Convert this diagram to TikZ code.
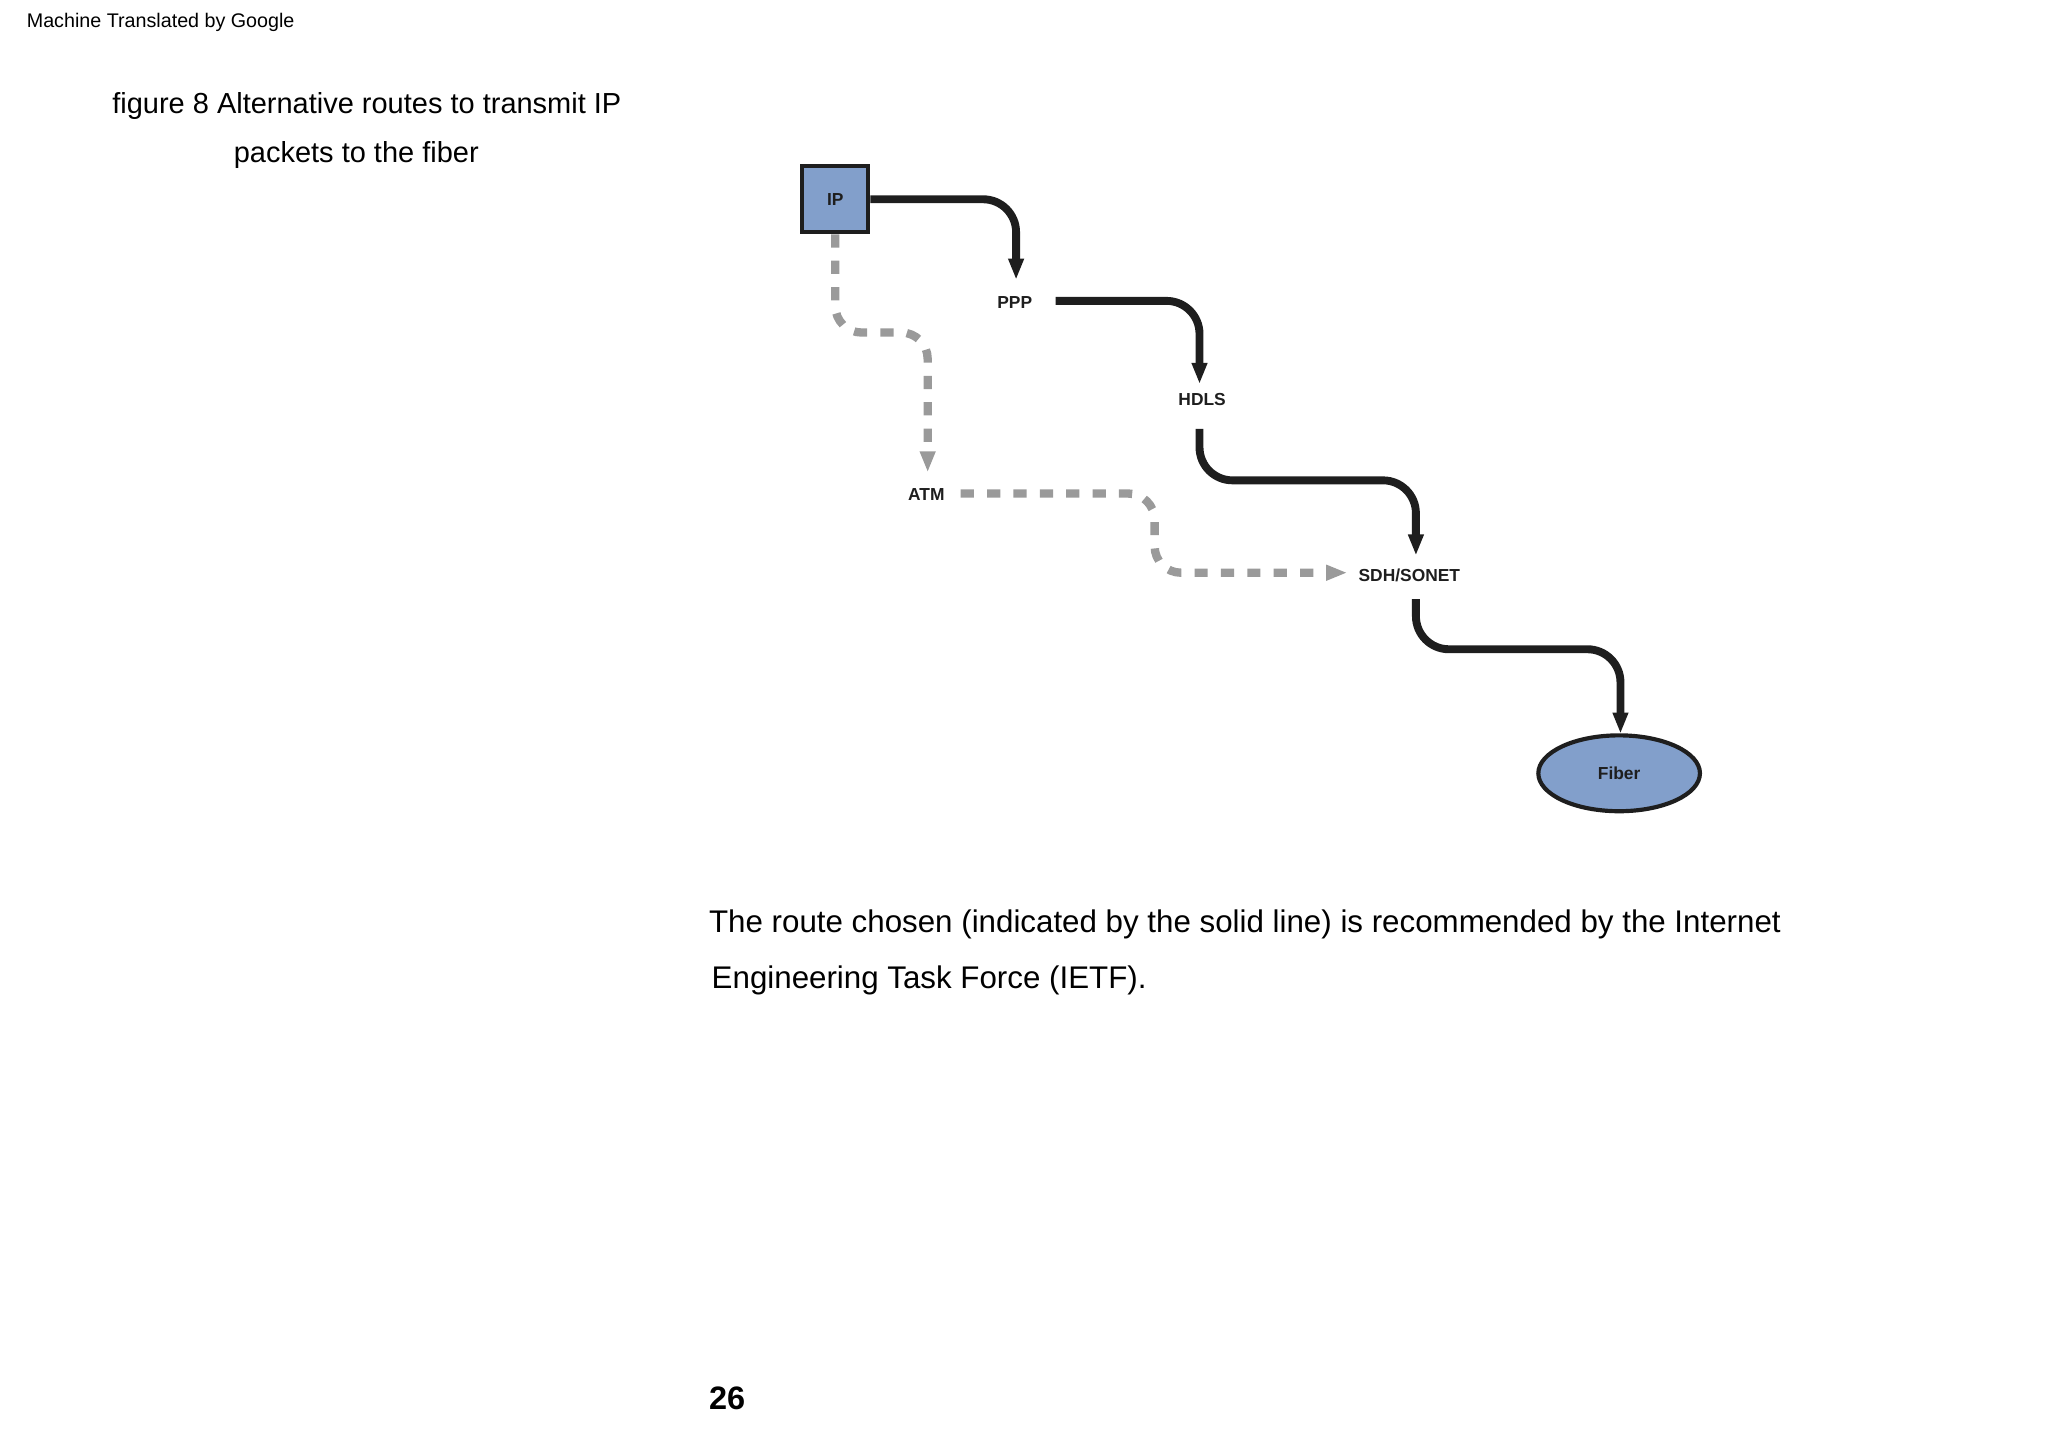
\documentclass[tikz,border=0pt]{standalone}
\usepackage{fontspec}
\setmainfont{Liberation Sans}
\usetikzlibrary{arrows.meta,shapes.geometric}
\definecolor{boxblue}{HTML}{829FCB}
\definecolor{dgray}{HTML}{9A9A9A}
\definecolor{ink}{HTML}{1E1E1E}
\tikzset{
  lbl/.style={font=\bfseries\fontsize{7.5}{9}\selectfont, text=ink, inner sep=1pt},
  solidpath/.style={draw=ink, line width=3.4pt, rounded corners=0.5cm, -{Triangle[length=0.32cm,width=0.22cm]}},
  dashpath/.style={draw=dgray, line width=3.6pt, rounded corners=0.4cm, dash pattern=on 0.2cm off 0.2cm, -{Triangle[length=0.32cm,width=0.22cm]}},
  txt/.style={inner sep=0pt, anchor=base west}
}
\begin{document}
\begin{tikzpicture}[x=0.02cm,y=-0.02cm]
\useasboundingbox (0,0) rectangle (1552,1100);
\node[txt, font=\fontsize{8.5}{10}\selectfont] at (20,21) {Machine Translated by Google};
\node[inner sep=0pt, anchor=base, font=\fontsize{12.5}{14}\selectfont] at (278,86) {figure 8 Alternative routes to transmit IP};
\node[inner sep=0pt, anchor=base, font=\fontsize{12.5}{14}\selectfont] at (270,123) {packets to the fiber};
% nodes
\node[draw=ink, line width=1.8pt, fill=boxblue, minimum size=1cm, lbl] (ip) at (633,151) {IP};
\node[lbl] (ppp) at (769,229) {PPP};
\node[lbl] (hdls) at (911,303) {HDLS};
\node[lbl] (atm) at (702,375) {ATM};
\node[lbl] (sdh) at (1068,436) {SDH/SONET};
\node[draw=ink, line width=1.8pt, fill=boxblue, ellipse, minimum width=2.45cm, minimum height=1.15cm, lbl] (fiber) at (1227,586) {Fiber};
% solid route
\coordinate (pppR) at (800,228);
\path[solidpath] (ip.east) -- (770,151) -- (770,212);
\path[solidpath] (pppR) -- (909,228) -- (909,291);
\path[solidpath] (909,325) -- (909,364) -- (1073,364) -- (1073,421);
\path[solidpath] (1073,454) -- (1073,492) -- (1228,492) -- (1228,556);
% dashed route
\path[dashpath] (ip.south) -- (633,252) -- (703,252) -- (703,358);
\path[dashpath] (728,374) -- (875,374) -- (875,434) -- (1021,434);
% body
\node[txt, font=\fontsize{13.5}{16}\selectfont] at (537,707) {The route chosen (indicated by the solid line) is recommended by the Internet};
\node[txt, font=\fontsize{13.5}{16}\selectfont] at (539,749) {Engineering Task Force (IETF).};
\node[txt, font=\bfseries\fontsize{14}{16}\selectfont] at (537,1068) {26};
\end{tikzpicture}
\end{document}
